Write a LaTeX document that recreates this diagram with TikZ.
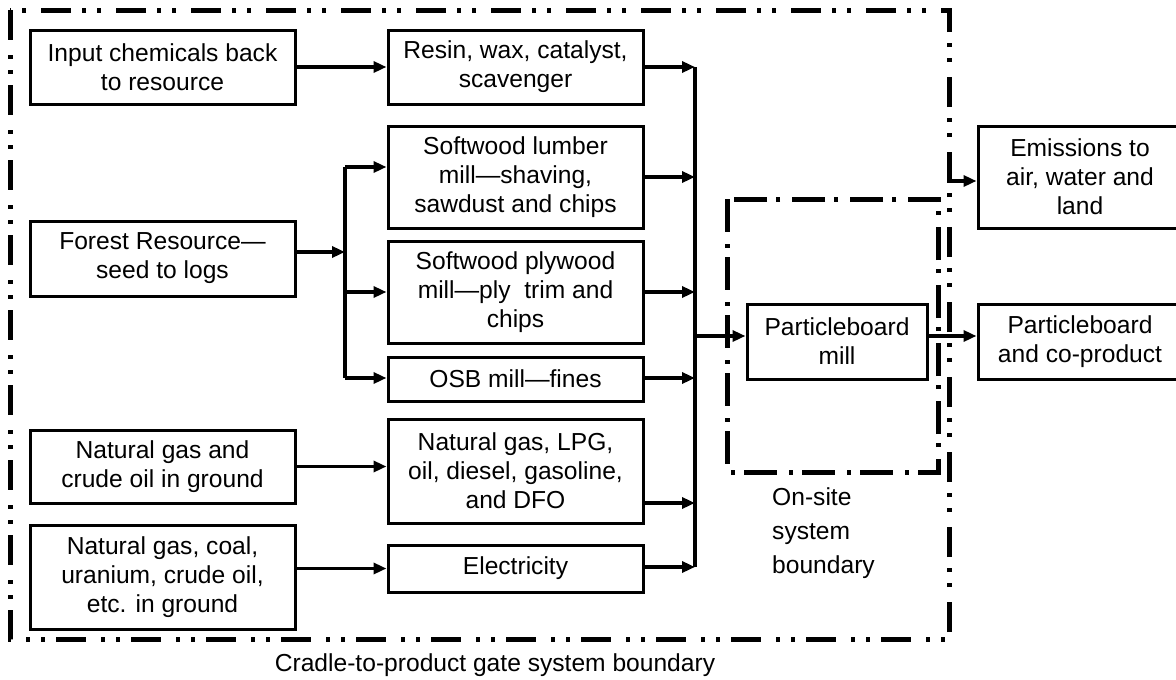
\documentclass[tikz,border=0pt]{standalone}
\usepackage{fontspec}
\setmainfont{Liberation Sans}
\usetikzlibrary{arrows.meta}
\begin{document}
\begin{tikzpicture}[x=1pt,y=-1pt,
  box/.style={draw=black, line width=3pt, align=center, inner sep=2pt,
    font=\fontsize{24.6}{29}\selectfont},
  arr/.style={line width=3.3pt, -{Triangle[length=13pt,width=11pt]}},
  bus/.style={line width=3.3pt},
  outerb/.style={line width=5pt, dash pattern=on 30pt off 15pt on 4pt off 11pt on 4pt off 11pt},
  innerb/.style={line width=5pt, dash pattern=on 33pt off 12pt on 4pt off 9pt},
  lbl/.style={font=\fontsize{24.6}{29}\selectfont, inner sep=0pt}]
\useasboundingbox (0,0) rectangle (1176,680);
\clip (0,0) rectangle (1176,680);
\fill[white] (0,0) rectangle (1176,680);
% boundaries
\draw[outerb] (10,10) rectangle (949,639);
\draw[innerb] (727,199) rectangle (938,472);
% left column
\node[box, minimum width=265pt, minimum height=74pt] (inchem) at (162.5,67) {Input chemicals back\\to resource};
\node[box, minimum width=265pt, minimum height=75pt] (forest) at (162.5,258.5) {Forest Resource---\\seed to logs};
\node[box, minimum width=265pt, minimum height=73pt] (ngcrude) at (162.5,466.5) {Natural gas and\\crude oil in ground};
\node[box, minimum width=265pt, minimum height=104pt] (ngcoal) at (162.5,577) {Natural gas, coal,\\uranium, crude oil,\\etc. in ground};
% middle column
\node[box, minimum width=255pt, minimum height=74pt] (resin) at (515.5,67) {Resin, wax, catalyst,\\scavenger};
\node[box, minimum width=255pt, minimum height=102pt] (lumber) at (515.5,177) {Softwood lumber\\mill---shaving,\\sawdust and chips};
\node[box, minimum width=255pt, minimum height=102pt] (plywood) at (515.5,292) {Softwood plywood\\mill---ply\ \ trim and\\chips};
\node[box, minimum width=255pt, minimum height=44pt] (osb) at (515.5,379) {OSB mill---fines};
\node[box, minimum width=255pt, minimum height=104pt] (nglpg) at (515.5,471) {Natural gas, LPG,\\oil, diesel, gasoline,\\and DFO};
\node[box, minimum width=255pt, minimum height=47pt] (elec) at (515.5,568.5) {Electricity};
% right
\node[box, minimum width=180pt, minimum height=75pt] (mill) at (837,341.5) {Particleboard\\mill};
\node[box, minimum width=204pt, minimum height=102pt] (emis) at (1080,177) {Emissions to\\air, water and\\land};
\node[box, minimum width=204pt, minimum height=75pt] (prod) at (1080,341.5) {Particleboard\\and co-product};
% labels
\node[lbl, anchor=west, align=left, font=\fontsize{24.6}{34}\selectfont] (onsite) at (772,533) {On-site\\system\\boundary};
\node[lbl] (cradle) at (495,665) {Cradle-to-product gate system boundary};
% coordinates
\coordinate (fj) at (345,252);
\coordinate (fa) at (345,167);
\coordinate (fb) at (345,378);
\coordinate (ba) at (695,67);
\coordinate (bb) at (695,567);
\coordinate (bm) at (695,336);
\coordinate (em) at (947,181);
% connectors left -> middle
\draw[arr] (inchem.east) -- (resin.west);
\draw[arr] ([yshift=6.5pt]forest.east) -- (fj);
\draw[bus] (fa) -- (fb);
\draw[arr] (fa) -- (lumber.west |- fa);
\draw[arr] (fa |- plywood.west) -- (plywood.west);
\draw[arr] (fb) -- (osb.west |- fb);
\draw[arr] (ngcrude.east) -- (nglpg.west |- ngcrude.east);
\draw[arr] (ngcoal.east |- elec.west) -- (elec.west);
% middle -> bus
\draw[bus] (ba) -- (bb);
\draw[arr] (resin.east) -- (ba);
\draw[arr] (lumber.east) -- (lumber.east -| ba);
\draw[arr] (plywood.east) -- (plywood.east -| ba);
\draw[arr] (osb.east |- fb) -- (ba |- fb);
\draw[arr] ([yshift=-32pt]nglpg.east) -- ([yshift=-32pt]nglpg.east -| ba);
\draw[arr] (elec.east |- bb) -- (bb);
% bus -> mill -> product
\draw[arr] (bm) -- (mill.west |- bm);
\draw[arr] (mill.east |- bm) -- (prod.west |- bm);
\draw[arr] (em) -- (emis.west |- em);
\end{tikzpicture}
\end{document}
